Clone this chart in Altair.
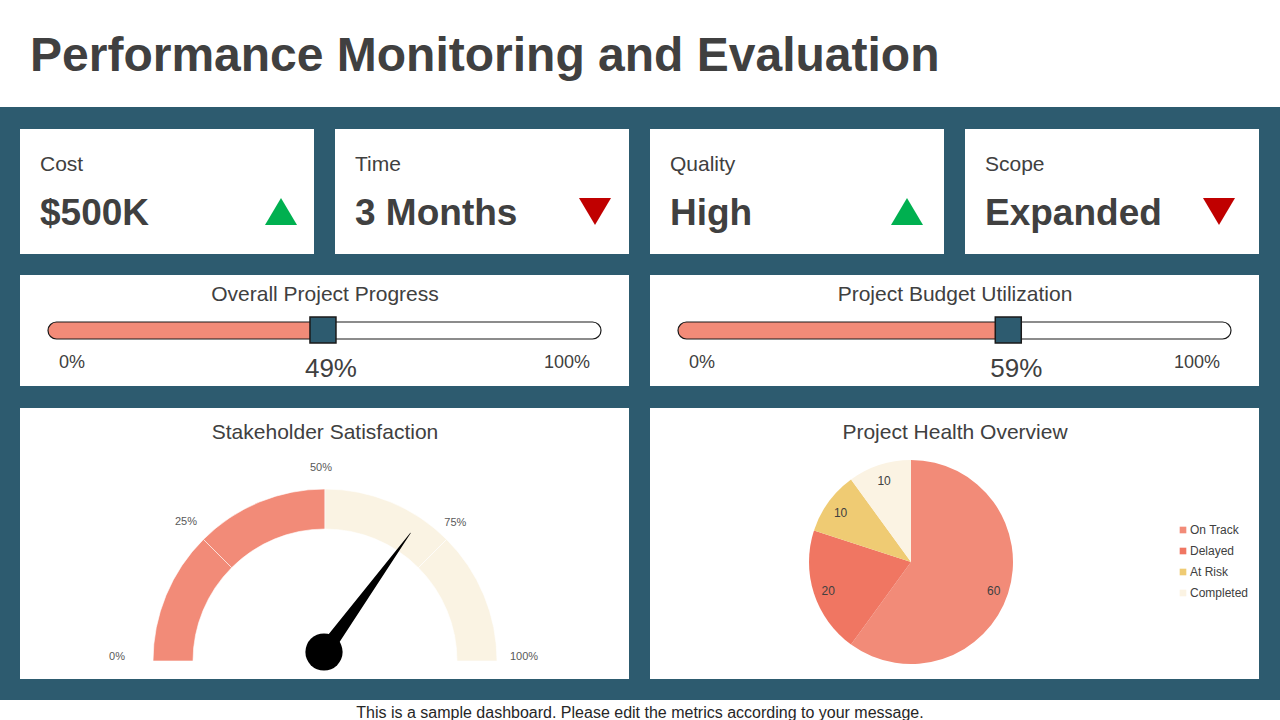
import altair as alt
import pandas as pd

# ---------------- data ----------------
page_title = "Performance Monitoring and Evaluation"
footer_text = "This is a sample dashboard. Please edit the metrics according to your message."

kpi_labels = ["Cost", "Time", "Quality", "Scope"]
kpi_values = ["$500K", "3 Months", "High", "Expanded"]
kpi_trends = ["up", "down", "up", "down"]

progress_titles = ["Overall Project Progress", "Project Budget Utilization"]
progress_values = [49, 59]
progress_min_label = "0%"
progress_max_label = "100%"

gauge_title = "Stakeholder Satisfaction"
gauge_value = 70
gauge_ticks = [0, 25, 50, 75, 100]
gauge_band_start = [0, 25, 50, 75]
gauge_band_end = [25, 50, 75, 100]
gauge_band_zone = ["reached", "reached", "remaining", "remaining"]

health_title = "Project Health Overview"
health_labels = ["On Track", "Delayed", "At Risk", "Completed"]
health_values = [60, 20, 10, 10]

# ---------------- styles / layout ----------------
W, H = 1280, 720
FONT = "Liberation Sans"
TEAL = "#2D5B6F"
SALMON = "#F28B78"
CORAL = "#F07662"
YELLOW = "#EFCB73"
CREAM = "#FBF3E3"
TEXT = "#404040"
UP = "M-1,0.85L1,0.85L0,-0.85Z"
DOWN = "M-1,-0.85L1,-0.85L0,0.85Z"
tick_label_radius = [204, 191, 189, 190, 203]   # layout: label ring (slightly elliptic)


def one(**kw):
    return pd.DataFrame([kw])


layers = []

# teal band
layers.append(
    alt.Chart(one(a=0)).mark_rect(color=TEAL).encode(
        x=alt.value(0), x2=alt.value(W), y=alt.value(107), y2=alt.value(700)
    )
)

# white cards
cards = pd.DataFrame({
    "x0": [20, 335, 650, 965, 20, 650, 20, 650],
    "x1": [314, 629, 944, 1259, 629, 1259, 629, 1259],
    "y0": [129] * 4 + [275, 275] + [408, 408],
    "y1": [254] * 4 + [386, 386] + [679, 679],
})
layers.append(
    alt.Chart(cards).mark_rect(color="white").encode(
        x=alt.X("x0:Q", scale=None), x2="x1:Q",
        y=alt.Y("y0:Q", scale=None), y2="y1:Q",
    )
)

# page title and footer
layers.append(
    alt.Chart(one(t=page_title)).mark_text(
        align="left", baseline="middle", font=FONT, fontSize=48,
        fontWeight="bold", color=TEXT
    ).encode(x=alt.value(30), y=alt.value(57), text="t:N")
)
layers.append(
    alt.Chart(one(t=footer_text)).mark_text(
        align="center", baseline="middle", font=FONT, fontSize=16, color="#262626"
    ).encode(x=alt.value(640), y=alt.value(713), text="t:N")
)

# KPI cards
kpi = pd.DataFrame({
    "label": kpi_labels, "value": kpi_values, "trend": kpi_trends,
    "tx": [40, 355, 670, 985], "ax": [281, 595, 907, 1219],
})
layers.append(
    alt.Chart(kpi).mark_text(
        align="left", baseline="middle", font=FONT, fontSize=21, color=TEXT
    ).encode(x=alt.X("tx:Q", scale=None), y=alt.value(165), text="label:N")
)
layers.append(
    alt.Chart(kpi).mark_text(
        align="left", baseline="middle", font=FONT, fontSize=37,
        fontWeight="bold", color=TEXT
    ).encode(x=alt.X("tx:Q", scale=None), y=alt.value(214), text="value:N")
)
layers.append(
    alt.Chart(kpi).mark_point(filled=True, size=1024, opacity=1, strokeWidth=0).encode(
        x=alt.X("ax:Q", scale=None), y=alt.value(211.5),
        shape=alt.Shape("trend:N", scale=alt.Scale(domain=["up", "down"], range=[UP, DOWN]), legend=None),
        color=alt.Color("trend:N", scale=alt.Scale(domain=["up", "down"], range=["#00B050", "#C00000"]), legend=None),
    )
)

# progress bars
for i, (title, val) in enumerate(zip(progress_titles, progress_values)):
    x0 = [48, 678][i]
    x1 = x0 + 553
    cx = [325, 955][i]
    xs = alt.Scale(domain=[0, 100], range=[x0, x1])
    track = pd.DataFrame({"a": [0], "b": [100]})
    fill = pd.DataFrame({"a": [0], "b": [val]})
    enc = dict(x=alt.X("a:Q", scale=xs, axis=None), x2="b:Q", y=alt.value(322), y2=alt.value(339))
    layers.append(alt.Chart(one(t=title)).mark_text(
        align="center", baseline="middle", font=FONT, fontSize=21, color=TEXT
    ).encode(x=alt.value(cx), y=alt.value(295), text="t:N"))
    layers.append(alt.Chart(track).mark_rect(color="white", cornerRadius=8.5).encode(**enc))
    layers.append(alt.Chart(fill).mark_rect(
        color=SALMON, cornerRadiusTopLeft=8.5, cornerRadiusBottomLeft=8.5, x2Offset=4).encode(**enc))
    layers.append(alt.Chart(track).mark_rect(
        fill="white", fillOpacity=0, stroke="#1a1a1a", strokeWidth=1.2, cornerRadius=8.5).encode(**enc))
    layers.append(alt.Chart(fill).mark_square(
        size=676, fill=TEAL, opacity=1, stroke="#1a1a1a", strokeWidth=1.5, xOffset=4
    ).encode(x=alt.X("b:Q", scale=xs, axis=None), y=alt.value(330)))
    layers.append(alt.Chart(fill).transform_calculate(lbl="datum.b + '%'").mark_text(
        align="center", baseline="middle", font=FONT, fontSize=26, color=TEXT, dx=12
    ).encode(x=alt.X("b:Q", scale=xs, axis=None), y=alt.value(369), text="lbl:N"))
    layers.append(alt.Chart(one(t=progress_min_label)).mark_text(
        align="center", baseline="middle", font=FONT, fontSize=18, color=TEXT
    ).encode(x=alt.value(x0 + 24), y=alt.value(363), text="t:N"))
    layers.append(alt.Chart(one(t=progress_max_label)).mark_text(
        align="center", baseline="middle", font=FONT, fontSize=18, color=TEXT
    ).encode(x=alt.value(x1 - 34), y=alt.value(363), text="t:N"))

# gauge
GX, GY = 325, 661
PX, PY, L = 324, 652, 147
PI = 3.141592653589793
gscale = alt.Scale(domain=[0, 100], range=[-PI / 2, PI / 2])
layers.append(alt.Chart(one(t=gauge_title)).mark_text(
    align="center", baseline="middle", font=FONT, fontSize=21, color=TEXT
).encode(x=alt.value(325), y=alt.value(433), text="t:N"))
bands = pd.DataFrame({"s": gauge_band_start, "e": gauge_band_end, "zone": gauge_band_zone})
layers.append(alt.Chart(bands).mark_arc(
    innerRadius=132, outerRadius=172, stroke="white", strokeWidth=0.6
).encode(
    theta=alt.Theta("s:Q", scale=gscale), theta2="e:Q",
    color=alt.Color("zone:N", scale=alt.Scale(domain=["reached", "remaining"], range=[SALMON, "#FAF3E3"]), legend=None),
    x=alt.value(GX), y=alt.value(GY),
))
ticks = pd.DataFrame({"t": gauge_ticks, "r": tick_label_radius})
layers.append(alt.Chart(ticks).transform_calculate(lbl="datum.t + '%'").mark_text(
    font=FONT, fontSize=11, color="#595959", baseline="middle"
).encode(theta=alt.Theta("t:Q", scale=gscale), radius=alt.Radius("r:Q", scale=None),
         x=alt.value(321), y=alt.value(657), text="lbl:N"))

nxs = alt.Scale(domain=[-1, 1], range=[PX - L, PX + L])
nys = alt.Scale(domain=[-1, 1], range=[PY + L, PY - L])
needle = pd.DataFrame({"t": [0, 1], "w": [15, 0.6], "v": [gauge_value, gauge_value]})
layers.append(alt.Chart(needle).transform_calculate(
    ang="PI * (1 - datum.v / 100)"
).transform_calculate(
    nx="datum.t * cos(datum.ang)", ny="datum.t * sin(datum.ang)"
).mark_trail(color="black").encode(
    x=alt.X("nx:Q", scale=nxs, axis=None), y=alt.Y("ny:Q", scale=nys, axis=None),
    size=alt.Size("w:Q", scale=None), order="t:Q",
))
layers.append(alt.Chart(one(nx=0, ny=0)).mark_circle(size=1385, color="black", opacity=1).encode(
    x=alt.X("nx:Q", scale=nxs, axis=None), y=alt.Y("ny:Q", scale=nys, axis=None)))

# pie
layers.append(alt.Chart(one(t=health_title)).mark_text(
    align="center", baseline="middle", font=FONT, fontSize=21, color=TEXT
).encode(x=alt.value(955), y=alt.value(433), text="t:N"))
health = pd.DataFrame({"label": health_labels, "v": health_values, "idx": list(range(len(health_labels)))})
layers.append(alt.Chart(health).mark_arc(outerRadius=102).encode(
    theta=alt.Theta("v:Q", stack=True),
    color=alt.Color("label:N", sort=health_labels,
                    scale=alt.Scale(domain=health_labels, range=[SALMON, CORAL, YELLOW, CREAM]),
                    legend=alt.Legend(title=None, orient="none", legendX=1177, legendY=524,
                                      symbolType="square", symbolSize=44, symbolStrokeWidth=0,
                                      labelFont=FONT, labelFontSize=12, labelColor=TEXT,
                                      rowPadding=9, labelOffset=1)),
    order=alt.Order("idx:Q"),
    x=alt.value(911), y=alt.value(562),
))
layers.append(alt.Chart(health).mark_text(
    radius=87, font=FONT, fontSize=12, color=TEXT, baseline="middle", dy=2
).encode(
    theta=alt.Theta("v:Q", stack=True), order=alt.Order("idx:Q"), text="v:Q",
    x=alt.value(911), y=alt.value(562),
))

chart = alt.layer(*layers).resolve_scale(
    x="independent", y="independent", theta="independent",
    color="independent", shape="independent", size="independent",
).properties(
    width=W, height=H, padding=0, background="white",
    autosize=alt.AutoSizeParams(type="none"),
).configure_view(strokeWidth=0)

chart.save("out.html", embed_options={"renderer": "svg", "actions": False})
